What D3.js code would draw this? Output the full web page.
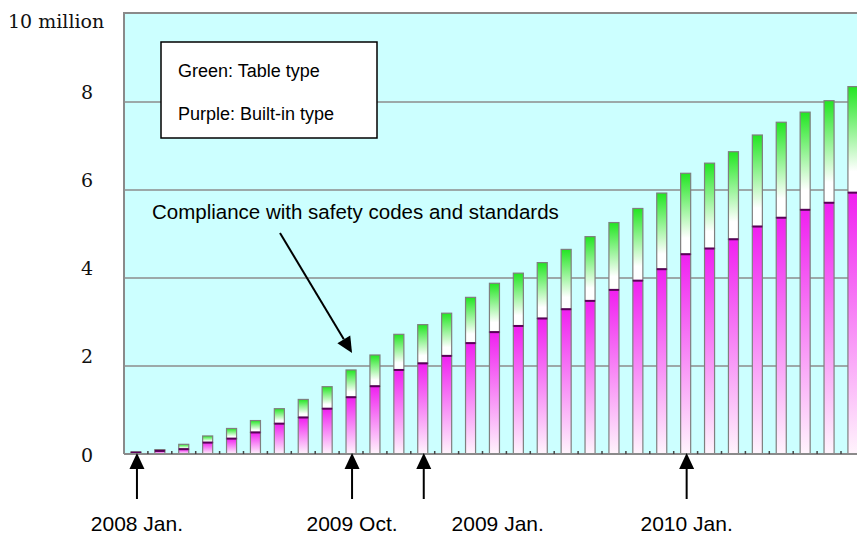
<!DOCTYPE html>
<html><head><meta charset="utf-8">
<script src="https://cdn.jsdelivr.net/npm/d3@7"></script>
<style>html,body{margin:0;padding:0;background:#fff;}svg{display:block;}</style>
</head><body>
<svg id="chart" width="857" height="535"></svg>
<script>
// ---- data (millions of units) ----
const months = ["2008-01","2008-02","2008-03","2008-04","2008-05","2008-06","2008-07","2008-08","2008-09","2008-10",
  "2008-11","2008-12","2009-01","2009-02","2009-03","2009-04","2009-05","2009-06","2009-07","2009-08",
  "2009-09","2009-10","2009-11","2009-12","2010-01","2010-02","2010-03","2010-04","2010-05","2010-06","2010-07"];
const builtIn = [0.03,0.07,0.11,0.26,0.35,0.49,0.69,0.83,1.03,1.29,
  1.54,1.91,2.06,2.23,2.52,2.77,2.91,3.08,3.29,3.48,
  3.73,3.94,4.20,4.54,4.67,4.88,5.17,5.37,5.55,5.71,5.94];
const tableType = [0.02,0.03,0.11,0.15,0.23,0.27,0.34,0.41,0.50,0.62,
  0.71,0.81,0.88,0.97,1.04,1.11,1.20,1.27,1.36,1.46,
  1.53,1.64,1.73,1.84,1.94,1.99,2.08,2.17,2.22,2.32,2.41];
const yTicks = [0,2,4,6,8];
const yTopLabel = "10 million";
const legendLines = ["Green: Table type","Purple: Built-in type"];
const annotation = "Compliance with safety codes and standards";
const markers = [
  {month:"2008-01", label:"2008 Jan."},
  {month:"2008-10", label:"2009 Oct."},
  {month:"2009-01", label:"2009 Jan."},
  {month:"2009-12", label:"2010 Jan."}
];

// ---- layout ----
const svg = d3.select("#chart");
const W = 857, H = 535;
const plot = {left:124, top:13, bottom:454};
const step = 23.9;
const x = d3.scaleBand().domain(months)
  .range([plot.left, plot.left + step*months.length])
  .paddingInner(0.58).paddingOuter(0.29);
const y = d3.scaleLinear().domain([0,10]).range([plot.bottom, plot.top+1]);

const defs = svg.append("defs");
const gG = defs.append("linearGradient").attr("id","gGreen").attr("x1",0).attr("y1",0).attr("x2",0).attr("y2",1);
gG.append("stop").attr("offset","0%").attr("stop-color","#22e622");
gG.append("stop").attr("offset","80%").attr("stop-color","#ffffff");
gG.append("stop").attr("offset","100%").attr("stop-color","#ffffff");
const gP = defs.append("linearGradient").attr("id","gPurple").attr("x1",0).attr("y1",0).attr("x2",0).attr("y2",1);
gP.append("stop").attr("offset","0%").attr("stop-color","#f020f0");
gP.append("stop").attr("offset","100%").attr("stop-color","#fff4fc");

// background plot area
svg.append("rect").attr("x",plot.left).attr("y",plot.top).attr("width",W-plot.left).attr("height",plot.bottom-plot.top)
  .attr("fill","#ccffff");
// frame
svg.append("path").attr("d",`M${plot.left},${plot.bottom}V${plot.top}H${W}`).attr("fill","none")
  .attr("stroke","#8a8a8a").attr("stroke-width",2);

// gridlines
svg.append("g").selectAll("line").data(yTicks.filter(d=>d>0)).join("line")
  .attr("x1",plot.left).attr("x2",W).attr("y1",d=>y(d)).attr("y2",d=>y(d))
  .attr("stroke","#8c8c8c").attr("stroke-width",1.5);

// bars
const bw = x.bandwidth();
const bars = svg.append("g").selectAll("g").data(months).join("g");
bars.append("rect").attr("x",d=>x(d)).attr("width",bw)
  .attr("y",(d,i)=>y(builtIn[i]+tableType[i])).attr("height",(d,i)=>y(builtIn[i])-y(builtIn[i]+tableType[i]))
  .attr("fill","url(#gGreen)").attr("stroke","#7f7f7f").attr("stroke-width",1.2);
bars.append("rect").attr("x",d=>x(d)).attr("width",bw)
  .attr("y",(d,i)=>y(builtIn[i])).attr("height",(d,i)=>y(0)-y(builtIn[i]))
  .attr("fill","url(#gPurple)").attr("stroke","#7f7f7f").attr("stroke-width",1.2);
bars.append("line").attr("x1",d=>x(d)).attr("x2",d=>x(d)+bw)
  .attr("y1",(d,i)=>y(builtIn[i])).attr("y2",(d,i)=>y(builtIn[i]))
  .attr("stroke","#5a005a").attr("stroke-width",2);

// x axis line and small ticks between bars
svg.append("line").attr("x1",plot.left).attr("x2",W).attr("y1",y(0)).attr("y2",y(0))
  .attr("stroke","#8a8a8a").attr("stroke-width",2);
svg.append("g").selectAll("line").data(months).join("line")
  .attr("x1",d=>x(d)+bw+(x.step()-bw)/2).attr("x2",d=>x(d)+bw+(x.step()-bw)/2)
  .attr("y1",y(0)).attr("y2",y(0)-3).attr("stroke","#444").attr("stroke-width",1.5);

// y labels
const serif = "'DejaVu Serif', serif";
svg.append("text").attr("x",8).attr("y",y(10)+14).attr("font-family",serif).attr("font-size",19)
  .attr("fill","#111").text(yTopLabel);
svg.append("g").selectAll("text").data(yTicks).join("text")
  .attr("x",87).attr("y",d=> d===0 ? y(d)+8 : y(d)-3).attr("text-anchor","middle")
  .attr("font-family",serif).attr("font-size",19).attr("fill","#111").text(d=>d);

// legend box
const sans = "'Liberation Sans', Arial, sans-serif";
svg.append("rect").attr("x",161).attr("y",42).attr("width",216).attr("height",96)
  .attr("fill","#fff").attr("stroke","#000").attr("stroke-width",1.5);
svg.append("g").selectAll("text").data(legendLines).join("text")
  .attr("x",178).attr("y",(d,i)=>77+i*43).attr("font-family",sans).attr("font-size",18).attr("fill","#000").text(d=>d);

// annotation
svg.append("text").attr("x",152).attr("y",219).attr("font-family",sans).attr("font-size",20.5).attr("fill","#000").text(annotation);
function arrow(x1,y1,x2,y2){
  const a = Math.atan2(y2-y1,x2-x1), L=16, Wd=7.5;
  const bx = x2-L*Math.cos(a), by = y2-L*Math.sin(a);
  svg.append("line").attr("x1",x1).attr("y1",y1).attr("x2",bx).attr("y2",by).attr("stroke","#000").attr("stroke-width",2);
  svg.append("path").attr("d",`M${x2},${y2}L${bx+Wd*Math.sin(a)},${by-Wd*Math.cos(a)}L${bx-Wd*Math.sin(a)},${by+Wd*Math.cos(a)}Z`).attr("fill","#000");
}
arrow(280,233,x(markers[1].month)+bw/2+1,353);

// markers (labels pushed right if they would collide with the previous one)
let prevEnd = -Infinity;
const gap = 54;
markers.forEach(m=>{
  const cx = x(m.month)+bw/2+1;
  arrow(cx,499,cx,453);
  const t = svg.append("text").attr("y",531).attr("text-anchor","middle")
    .attr("font-family",sans).attr("font-size",21).attr("fill","#000").text(m.label);
  const w = t.node().getComputedTextLength();
  const lx = Math.max(cx, prevEnd + gap + w/2);
  t.attr("x",lx);
  prevEnd = lx + w/2;
});
</script>
</body></html>
